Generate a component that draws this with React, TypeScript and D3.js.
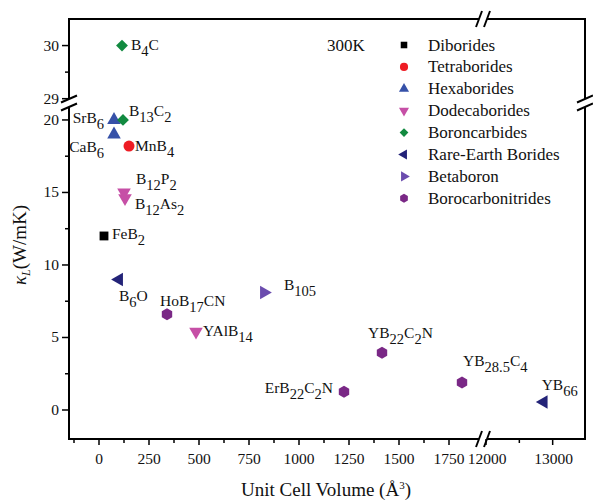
import * as d3 from "d3";

// legend categories and their colours
const categories = [
  "Diborides",
  "Tetraborides",
  "Hexaborides",
  "Dodecaborides",
  "Boroncarbides",
  "Rare-Earth Borides",
  "Betaboron",
  "Borocarbonitrides",
];
const categoryColors = ["#000000", "#ee1c24", "#3651a8", "#c64fa6", "#128a40", "#232378", "#6b4cae", "#7a2886"];
const categoryShapes = ["square", "circle", "up", "down", "diamond", "left", "right", "hexagon"];

// compounds: unit cell volume (Å^3) and lattice thermal conductivity (W/mK) at 300K
const compounds = ["FeB2", "MnB4", "SrB6", "CaB6", "B12P2", "B12As2", "YAlB14", "B4C", "B13C2", "B6O", "YB66", "B105", "HoB17CN", "ErB22C2N", "YB22C2N", "YB28.5C4"];
const compoundCategory = [0, 1, 2, 2, 3, 3, 3, 4, 4, 5, 5, 6, 7, 7, 7, 7];
const volumes = [25, 150, 75, 75, 125, 130, 485, 115, 120, 100, 12865, 825, 340, 1225, 1415, 1815];
const kappa = [12.0, 18.2, 20.0, 19.0, 15.0, 14.6, 5.4, 30.0, 20.0, 9.0, 0.55, 8.1, 6.6, 1.25, 3.95, 1.9];

// label placement relative to the marker: [dx, dy, anchor]
const labelPlacement: [number, number, string][] = [
  [8, 3, "start"],
  [6, 5, "start"],
  [-10, 3, "end"],
  [-10, 18, "end"],
  [12, -8, "start"],
  [10, 11, "start"],
  [7, 4, "start"],
  [9, 4, "start"],
  [6, -4, "start"],
  [0, 22, "start"],
  [-2, -12, "start"],
  [20, -3, "start"],
  [-7, -8, "start"],
  [-11, 1, "end"],
  [-14, -15, "start"],
  [1, -16, "start"],
];

const xTicksLo = [0, 250, 500, 750, 1000, 1250, 1500, 1750];
const xMinorLo = [-125, 125, 375, 625, 875, 1125, 1375, 1625];
const xTicksHi = [12000, 13000];
const xMinorHi = [12500];
const yTicksLo = [0, 5, 10, 15, 20];
const yMinorLo = [2.5, 7.5, 12.5, 17.5];
const yTicksHi = [29, 30];
const yMinorHi = [29.5];

const W = 593;
const H = 502;
const L = 69, R = 585, T = 19, B = 439;
const xBreak = 483;
const yBreak = 103;

const xLo = d3.scaleLinear().domain([-150, 1880]).range([L, 475]);
const xHi = d3.scaleLinear().domain([11910, 13500]).range([480, 586]);
const yLo = d3.scaleLinear().domain([-2, 21.1]).range([B, 104]);
const yHi = d3.scaleLinear().domain([28.9, 30.5]).range([104, T]);
const xs = (v: number) => (v < 5000 ? xLo(v) : xHi(v));
const ys = (v: number) => (v > 25 ? yHi(v) : yLo(v));

const FONT = "'Liberation Serif', 'Times New Roman', serif";

function hexagon(r: number) {
  const pts = d3.range(6).map((i) => {
    const a = (Math.PI / 3) * i + Math.PI / 6;
    return [r * Math.cos(a), r * Math.sin(a)] as [number, number];
  });
  return "M" + pts.map((p) => p.join(",")).join("L") + "Z";
}

function markerPath(shape: string, k: number) {
  switch (shape) {
    case "square":
      return d3.symbol(d3.symbolSquare, 78 * k)()!;
    case "circle":
      return d3.symbol(d3.symbolCircle, 95 * k)()!;
    case "diamond":
      return d3.symbol(d3.symbolSquare, 70 * k)()!;
    case "hexagon":
      return hexagon(6 * Math.sqrt(k));
    default:
      return d3.symbol(d3.symbolTriangle, 80 * k)()!;
  }
}

const rotation: Record<string, number> = { up: 0, down: 180, left: -90, right: 90, diamond: 45 };

function Marker({ x, y, shape, color, k = 1 }: { x: number; y: number; shape: string; color: string; k?: number }) {
  const rot = rotation[shape] ?? 0;
  return <path d={markerPath(shape, k)} fill={color} transform={`translate(${x},${y}) rotate(${rot})`} />;
}

// split a formula into normal text and numeric subscripts
function Formula({ text, x, y, anchor }: { text: string; x: number; y: number; anchor: string }) {
  const parts = text.split(/(\d+(?:\.\d+)?)/).filter((p) => p !== "");
  let sub = false;
  return (
    <text x={x} y={y} textAnchor={anchor} fontSize={15.5} fontFamily={FONT} fill="#111">
      {parts.map((p, i) => {
        const isSub = /^\d/.test(p);
        const dy = isSub && !sub ? 6 : !isSub && sub ? -6 : 0;
        sub = isSub;
        return (
          <tspan key={i} dy={dy} fontSize={isSub ? 14.5 : 15.5}>
            {p}
          </tspan>
        );
      })}
    </text>
  );
}

function Slash({ x, y, vertical }: { x: number; y: number; vertical: boolean }) {
  const d = vertical ? `M${x - 8},${y + 3.5}L${x + 8},${y - 3.5}` : `M${x - 3},${y + 8}L${x + 3},${y - 8}`;
  return <path d={d} stroke="#000" strokeWidth={2} fill="none" />;
}

export default function App() {
  return (
    <svg width={W} height={H} style={{ position: "absolute", left: 0, top: 0, background: "#fff" }}>
      {/* frame with breaks */}
      <g stroke="#000" strokeWidth={2} fill="none">
        <line x1={L} y1={B} x2={L} y2={yBreak + 4} />
        <line x1={L} y1={yBreak - 4} x2={L} y2={T} />
        <line x1={R} y1={B} x2={R} y2={yBreak + 4} />
        <line x1={R} y1={yBreak - 4} x2={R} y2={T} />
        <line x1={L - 1} y1={B} x2={xBreak - 4} y2={B} />
        <line x1={xBreak + 4} y1={B} x2={R + 1} y2={B} />
        <line x1={L - 1} y1={T} x2={xBreak - 4} y2={T} />
        <line x1={xBreak + 4} y1={T} x2={R + 1} y2={T} />
      </g>
      {[L, R].map((x) =>
        [yBreak - 4, yBreak + 4].map((y) => <Slash key={`${x}-${y}`} x={x} y={y} vertical />)
      )}
      {[T, B].map((y) =>
        [xBreak - 4, xBreak + 4].map((x) => <Slash key={`${x}-${y}`} x={x} y={y} vertical={false} />)
      )}

      {/* ticks */}
      <g stroke="#000" strokeWidth={1.5}>
        {[...xTicksLo.map(xLo), ...xTicksHi.map(xHi)].map((x, i) => (
          <line key={`xm${i}`} x1={x} x2={x} y1={B} y2={B + 6} />
        ))}
        {[...xMinorLo.map(xLo), ...xMinorHi.map(xHi)].map((x, i) => (
          <line key={`xn${i}`} x1={x} x2={x} y1={B} y2={B + 4} />
        ))}
        {[...yTicksLo.map(yLo), ...yTicksHi.map(yHi)].map((y, i) => (
          <line key={`ym${i}`} x1={L - 7} x2={L} y1={y} y2={y} />
        ))}
        {[...yMinorLo.map(yLo), ...yMinorHi.map(yHi)].map((y, i) => (
          <line key={`yn${i}`} x1={L - 4} x2={L} y1={y} y2={y} />
        ))}
      </g>
      <g fontFamily={FONT} fontSize={15.5} fill="#111">
        {xTicksLo.map((v) => (
          <text key={`xl${v}`} x={xLo(v)} y={B + 25} textAnchor="middle">
            {v}
          </text>
        ))}
        {xTicksHi.map((v) => (
          <text key={`xh${v}`} x={xHi(v) + 1} y={B + 25} textAnchor="middle">
            {v}
          </text>
        ))}
        {yTicksLo.map((v) => (
          <text key={`yl${v}`} x={L - 10} y={yLo(v) + 5} textAnchor="end">
            {v}
          </text>
        ))}
        {yTicksHi.map((v) => (
          <text key={`yh${v}`} x={L - 10} y={yHi(v) + 5} textAnchor="end">
            {v}
          </text>
        ))}
      </g>

      {/* axis titles */}
      <text x={326} y={496} textAnchor="middle" fontFamily={FONT} fontSize={19} fill="#111">
        Unit Cell Volume (Å<tspan dy={-7} fontSize={11}>3</tspan>
        <tspan dy={7}>)</tspan>
      </text>
      <text
        transform="translate(26,245) rotate(-90)"
        textAnchor="middle"
        fontFamily={FONT}
        fontSize={19}
        fill="#111"
      >
        <tspan fontStyle="italic">κ</tspan>
        <tspan fontStyle="italic" fontSize={12} dy={4}>L</tspan>
        <tspan dy={-4}>(W/mK)</tspan>
      </text>

      {/* data points */}
      {compounds.map((c, i) => {
        const cat = compoundCategory[i];
        const x = xs(volumes[i]);
        const y = ys(kappa[i]);
        const [dx, dy, anchor] = labelPlacement[i];
        return (
          <g key={c}>
            <Marker x={x} y={y} shape={categoryShapes[cat]} color={categoryColors[cat]} />
            <Formula text={c} x={x + dx} y={y + dy} anchor={anchor} />
          </g>
        );
      })}

      {/* legend */}
      <text x={327} y={51} fontFamily={FONT} fontSize={17} fill="#111">
        300K
      </text>
      {categories.map((c, i) => {
        const y = 45 + i * 21.9;
        return (
          <g key={c}>
            <Marker x={404} y={y} shape={categoryShapes[i]} color={categoryColors[i]} k={0.55} />
            <text x={428} y={y + 5.5} fontFamily={FONT} fontSize={17} fill="#111">
              {c}
            </text>
          </g>
        );
      })}
    </svg>
  );
}
